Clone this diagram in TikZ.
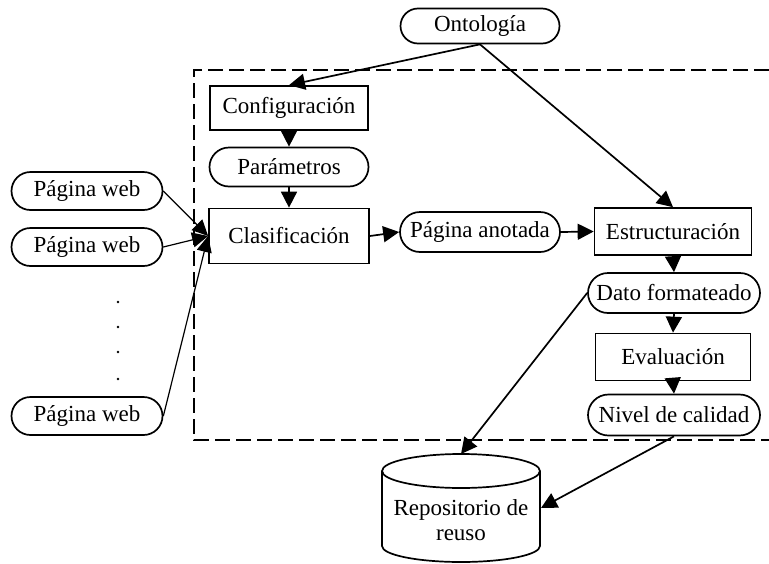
\documentclass[tikz,border=0pt]{standalone}
\usepackage{fontspec}
\setmainfont{Liberation Serif}
\usetikzlibrary{shapes.misc,arrows.meta}
\begin{document}
\begin{tikzpicture}[x=1pt,y=-1pt,
  every node/.style={font=\fontsize{23}{25}\selectfont, inner sep=0pt},
  pill/.style={draw, rounded rectangle, line width=1.7pt},
  box/.style={draw, rectangle, line width=1.7pt},
  arr/.style={line width=1.7pt, -{Triangle[length=16pt,width=16pt]}},
  thinarr/.style={line width=1.2pt, -{Triangle[length=16pt,width=15pt]}},
  frame/.style={line width=1.8pt, dash pattern=on 15pt off 6pt}]
\useasboundingbox (0,0) rectangle (769,563);
% frame
\draw[frame] (769,70) -- (194,70) -- (194,440) -- (769,440);
% nodes
\node[pill, minimum width=159, minimum height=35] (onto) at (480,26) {Ontología};
\node[box, minimum width=158, minimum height=44] (conf) at (289,108) {Configuración};
\node[pill, minimum width=159, minimum height=39] (param) at (289,167) {Parámetros};
\node[box, minimum width=160, minimum height=55] (clas) at (289,236) {Clasificación};
\node[pill, minimum width=151, minimum height=38] (pw1) at (87,191) {Página web};
\node[pill, minimum width=151, minimum height=38] (pw2) at (87,247) {Página web};
\node[pill, minimum width=151, minimum height=38] (pw3) at (87,416) {Página web};
\node[pill, minimum width=160, minimum height=40] (anot) at (480,232) {Página anotada};
\node[box, minimum width=157, minimum height=47] (estr) at (673,231.5) {Estructuración};
\node[pill, minimum width=172, minimum height=40] (dato) at (674,293) {Dato formateado};
\node[box, minimum width=155, minimum height=47] (eval) at (673,357) {Evaluación};
\node[pill, minimum width=172, minimum height=41] (nivel) at (674,415) {Nivel de calidad};
% dots
\foreach \yy in {302,327,352,379} \fill (118,\yy) circle (1.3);
% cylinder
\draw[line width=1.7pt] (382,471) -- (382,546) arc[start angle=180, end angle=0, x radius=79, y radius=16] -- (540,471);
\draw[line width=1.7pt] (461,471) ellipse[x radius=79, y radius=17];
\node[align=center] (repo) at (461,520) {Repositorio de\\reuso};
\coordinate (repotop) at (461,454);
\coordinate (repoeast) at (541,508);
% connectors
\draw[arr] (onto.south) -- (conf.north);
\draw[arr] (onto.south) -- (estr.north);
\draw[arr] (conf.south) -- (param.north);
\draw[arr] (param.south) -- (clas.north);
\draw[thinarr] (pw1.east) -- (clas.west);
\draw[thinarr] (pw2.east) -- (clas.west);
\draw[thinarr] (pw3.east) -- (clas.west);
\draw[arr] (clas.east) -- (anot.west);
\draw[arr] (anot.east) -- (estr.west);
\draw[arr] (estr.south) -- (dato.north);
\draw[arr] (dato.south) -- (eval.north);
\draw[arr] (eval.south) -- (nivel.north);
\draw[arr] (dato.west) -- (repotop);
\draw[arr] (nivel.south) -- (repoeast);
\end{tikzpicture}
\end{document}
